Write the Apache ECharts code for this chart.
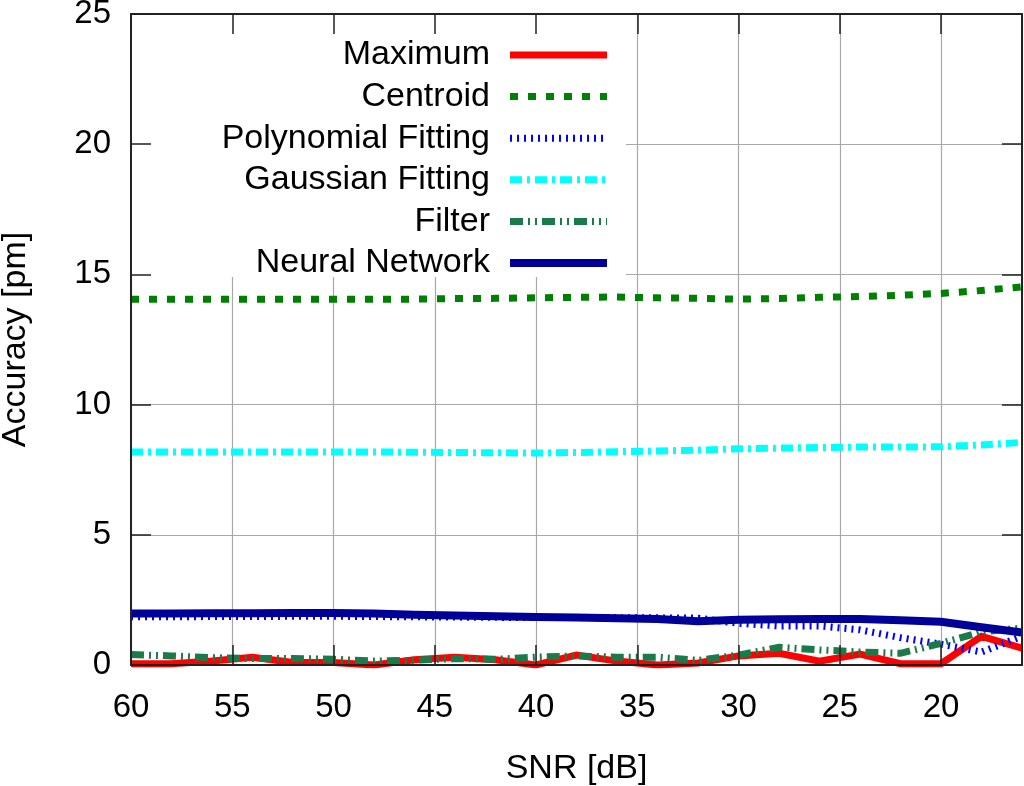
<!DOCTYPE html>
<html>
<head>
<meta charset="utf-8">
<script src="https://cdn.jsdelivr.net/npm/echarts@6/dist/echarts.min.js"></script>
<style>html,body{margin:0;padding:0;background:#fff}#c{width:1024px;height:786px}</style>
</head>
<body>
<div id="c"></div>
<script>
// SNR values (dB)
const snr = [60,58,56,54,52,50,48,46,44,42,40,38,36,34,32,30,28,26,24,22,20,18,16];
const maximum   = [0.05,0.05,0.15,0.30,0.10,0.10,0.00,0.20,0.30,0.20,0.00,0.38,0.15,0.00,0.08,0.35,0.45,0.15,0.42,0.05,0.05,1.10,0.65];
const centroid  = [14.05,14.05,14.05,14.05,14.05,14.05,14.05,14.05,14.07,14.08,14.10,14.12,14.13,14.10,14.08,14.05,14.07,14.12,14.15,14.20,14.27,14.38,14.52];
const polyFit   = [1.85,1.85,1.86,1.86,1.87,1.87,1.86,1.85,1.84,1.83,1.82,1.82,1.82,1.81,1.80,1.60,1.50,1.50,1.35,1.05,0.80,0.50,1.10];
const gaussFit  = [8.18,8.18,8.18,8.18,8.18,8.18,8.18,8.17,8.16,8.15,8.14,8.16,8.19,8.22,8.25,8.30,8.33,8.35,8.37,8.37,8.38,8.45,8.55];
const filterV   = [0.40,0.35,0.28,0.25,0.25,0.22,0.15,0.18,0.25,0.22,0.30,0.35,0.30,0.30,0.18,0.38,0.68,0.58,0.50,0.45,0.83,1.27,1.42];
const neural    = [1.98,1.98,1.99,1.99,2.00,2.00,1.98,1.93,1.90,1.87,1.84,1.82,1.80,1.77,1.68,1.74,1.76,1.77,1.77,1.72,1.66,1.45,1.25];
const xTicks = [60,55,50,45,40,35,30,25,20];
const yTicks = [0,5,10,15,20,25];

const FONT = '"Liberation Sans", Arial, Helvetica, sans-serif';
function pts(arr){ return snr.map((s,i)=>[-s, arr[i]]); }

const chart = echarts.init(document.getElementById('c'), null, {renderer:'canvas'});
const xBase = {type:'value', min:-60, max:-16, interval:5};
const yBase = {type:'value', min:0, max:25, interval:5};
const lineC = '#222';
const tick = {show:true, inside:true, length:20, lineStyle:{color:lineC, width:1.5}};

function mk(name, data, color, width, dash, z){
  return {
    name, type:'line', data:pts(data), xAxisIndex:0, yAxisIndex:0,
    symbol:'none', showSymbol:false, smooth:false, z: z||2,
    lineStyle:{color, width, type:dash||'solid', cap:'butt', join:'miter'},
    itemStyle:{color},
    emphasis:{disabled:true}
  };
}

chart.setOption({
  animation:false,
  grid:{left:131, right:2, top:14, bottom:121, containLabel:false, outerBoundsMode:'none'},
  graphic:[{type:'rect', shape:{x:132, y:15, width:494, height:262}, style:{fill:'#fff'}, z:1, silent:true}],
  legend:{
    orient:'vertical', align:'right', right:413, top:38, padding:0,
    itemWidth:97, itemHeight:14, itemGap:7.6, z:20,
    itemStyle:{opacity:0},
    lineStyle:{width:'inherit', type:'inherit', cap:'butt'},
    textStyle:{fontFamily:FONT, fontSize:34, color:'#000', lineHeight:34, padding:[0,15,0,0]},
    selectedMode:false,
    data:['Maximum','Centroid','Polynomial Fitting','Gaussian Fitting','Filter','Neural Network']
  },
  xAxis:[
    Object.assign({}, xBase, {position:'bottom', z:10,
      axisLine:{show:true, onZero:false, lineStyle:{color:lineC, width:2}},
      axisTick:tick,
      axisLabel:{show:true, margin:26, showMaxLabel:false, fontFamily:FONT, fontSize:33, color:'#000', formatter:v=>String(-v)},
      splitLine:{show:false},
      name:'SNR [dB]', nameLocation:'middle', nameGap:87,
      nameTextStyle:{fontFamily:FONT, fontSize:34, color:'#000'}}),
    Object.assign({}, xBase, {position:'top', z:10,
      axisLine:{show:true, onZero:false, lineStyle:{color:lineC, width:2}},
      axisTick:tick, axisLabel:{show:false}, splitLine:{show:false}}),
    Object.assign({}, xBase, {position:'bottom', z:0,
      axisLine:{show:false}, axisTick:{show:false}, axisLabel:{show:false},
      splitLine:{show:true, lineStyle:{color:'#a8a8a8', width:1.2}}})
  ],
  yAxis:[
    Object.assign({}, yBase, {position:'left', z:10,
      axisLine:{show:true, onZero:false, lineStyle:{color:lineC, width:2}},
      axisTick:tick,
      axisLabel:{show:true, margin:20, fontFamily:FONT, fontSize:33, color:'#000'},
      splitLine:{show:false},
      name:'Accuracy [pm]', nameLocation:'middle', nameGap:98,
      nameTextStyle:{fontFamily:FONT, fontSize:34, color:'#000'}}),
    Object.assign({}, yBase, {position:'right', z:10,
      axisLine:{show:true, onZero:false, lineStyle:{color:lineC, width:2}},
      axisTick:tick, axisLabel:{show:false}, splitLine:{show:false}}),
    Object.assign({}, yBase, {position:'left', z:0,
      axisLine:{show:false}, axisTick:{show:false}, axisLabel:{show:false},
      splitLine:{show:true, lineStyle:{color:'#a8a8a8', width:1.2}}})
  ],
  series:[
    mk('Maximum', maximum, '#ff0000', 7),
    mk('Centroid', centroid, '#008000', 7, [8,10]),
    mk('Polynomial Fitting', polyFit, '#0000ff', 7, [2,5]),
    mk('Gaussian Fitting', gaussFit, '#00ffff', 7, [12,5,3,5]),
    mk('Filter', filterV, '#1b7a4a', 7, [13,5,2,5,2,5]),
    mk('Neural Network', neural, '#000099', 8, 'solid', 3)
  ]
});
</script>
</body>
</html>
